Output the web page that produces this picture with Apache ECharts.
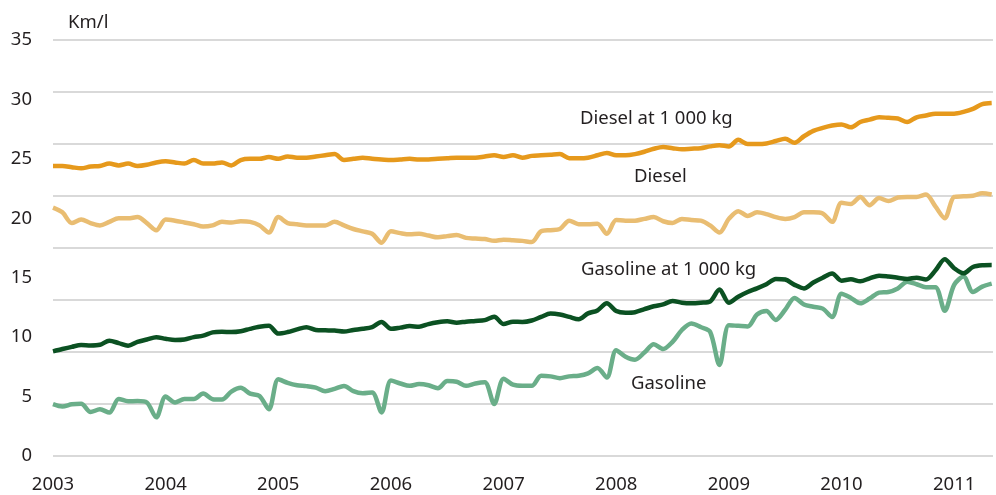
<!DOCTYPE html>
<html>
<head>
<meta charset="utf-8">
<script src="https://cdn.jsdelivr.net/npm/echarts@6/dist/echarts.min.js"></script>
<style>
  html, body { margin: 0; padding: 0; background: #ffffff; }
  #chart { width: 996px; height: 495px; }
</style>
</head>
<body>
<div id="chart"></div>
<script>
// monthly values, Jan 2003 .. May 2011 (km/l)
const startYear = 2003
const yearTicks = [2003, 2004, 2005, 2006, 2007, 2008, 2009, 2010, 2011]

const dieselKg = [
  24.4, 24.4, 24.3, 24.2, 24.35, 24.4, 24.6, 24.45, 24.6, 24.4, 24.5, 24.7,
  24.8, 24.7, 24.6, 24.9, 24.6, 24.6, 24.7, 24.45, 24.9, 25.0, 25.0, 25.15,
  25.0, 25.2, 25.1, 25.1, 25.2, 25.3, 25.4, 24.9, 25.0, 25.1, 25.0, 24.95,
  24.9, 24.95, 25.0, 24.95, 24.95, 25.0, 25.05, 25.1, 25.1, 25.1, 25.2, 25.3,
  25.15, 25.3, 25.1, 25.25, 25.3, 25.35, 25.4, 25.05, 25.05, 25.1, 25.3, 25.5,
  25.3, 25.3, 25.4, 25.6, 25.85, 26.0, 25.9, 25.8, 25.85, 25.9, 26.05, 26.15,
  26.05, 26.6, 26.25, 26.25, 26.3, 26.5, 26.7, 26.35, 26.9, 27.35, 27.6, 27.8,
  27.9, 27.65, 28.1, 28.3, 28.5, 28.45, 28.4, 28.1, 28.5, 28.65, 28.8, 28.8,
  28.8, 28.95, 29.2, 29.6, 29.7
]
const diesel = [
  20.9, 20.5, 19.6, 19.9, 19.6, 19.4, 19.7, 20.0, 20.0, 20.1, 19.6, 19.0,
  19.9, 19.8, 19.65, 19.5, 19.3, 19.4, 19.7, 19.65, 19.75, 19.7, 19.4, 18.8,
  20.1, 19.6, 19.5, 19.4, 19.4, 19.4, 19.7, 19.4, 19.1, 18.9, 18.7, 17.95,
  18.9, 18.75, 18.65, 18.7, 18.55, 18.4, 18.5, 18.6, 18.35, 18.3, 18.25, 18.1,
  18.2, 18.15, 18.1, 18.0, 18.9, 19.0, 19.1, 19.8, 19.5, 19.5, 19.55, 18.7,
  19.85, 19.8, 19.8, 19.95, 20.1, 19.75, 19.6, 19.95, 19.85, 19.8, 19.4, 18.8,
  19.95, 20.6, 20.2, 20.5, 20.35, 20.1, 19.95, 20.1, 20.5, 20.5, 20.4, 19.7,
  21.3, 21.2, 21.8, 21.1, 21.7, 21.45, 21.75, 21.8, 21.8, 22.0, 21.0, 20.0,
  21.8, 21.85, 21.9, 22.1, 22.0
]
const gasolineKg = [
  8.8, 9.0, 9.18, 9.33, 9.3, 9.36, 9.7, 9.5, 9.28, 9.6, 9.8, 10.0,
  9.86, 9.76, 9.8, 10.0, 10.13, 10.4, 10.45, 10.43, 10.5, 10.7, 10.87, 10.95,
  10.3, 10.43, 10.65, 10.83, 10.6, 10.57, 10.55, 10.47, 10.6, 10.7, 10.85, 11.28,
  10.7, 10.8, 10.93, 10.88, 11.1, 11.25, 11.33, 11.22, 11.3, 11.36, 11.43, 11.72,
  11.1, 11.3, 11.28, 11.4, 11.7, 11.98, 11.9, 11.7, 11.5, 12.0, 12.25, 12.85,
  12.2, 12.06, 12.1, 12.35, 12.6, 12.75, 13.05, 12.9, 12.85, 12.9, 13.0, 14.0,
  12.9, 13.4, 13.8, 14.1, 14.45, 14.9, 14.85, 14.4, 14.1, 14.6, 15.0, 15.35,
  14.75, 14.87, 14.7, 14.95, 15.17, 15.1, 15.0, 14.9, 15.0, 14.85, 15.6, 16.55,
  15.8, 15.37, 15.9, 16.05, 16.07
]
const gasoline = [
  4.37, 4.17, 4.35, 4.4, 3.7, 3.93, 3.65, 4.8, 4.6, 4.62, 4.5, 3.25,
  5.0, 4.5, 4.8, 4.8, 5.25, 4.78, 4.75, 5.42, 5.74, 5.25, 5.05, 3.93,
  6.45, 6.15, 5.95, 5.88, 5.75, 5.45, 5.65, 5.89, 5.45, 5.28, 5.35, 3.67,
  6.35, 6.1, 5.9, 6.05, 5.95, 5.7, 6.3, 6.25, 5.9, 6.1, 6.2, 4.37,
  6.5, 6.0, 5.9, 5.9, 6.75, 6.7, 6.55, 6.7, 6.75, 6.95, 7.4, 6.6,
  8.9, 8.35, 8.1, 8.7, 9.4, 9.0, 9.6, 10.6, 11.15, 10.85, 10.45, 7.66,
  11.0, 10.95, 10.9, 11.9, 12.2, 11.45, 12.3, 13.3, 12.75, 12.56, 12.4, 11.7,
  13.65, 13.3, 12.85, 13.25, 13.75, 13.8, 14.1, 14.66, 14.45, 14.2, 14.2, 12.22,
  14.4, 15.1, 13.8, 14.25, 14.5
]

const textColor = '#231f20'
const font = '"Noto Sans", sans-serif'

function toPoints(values) {
  return values.map((v, i) => [startYear + i / 12, v])
}

function lineSeries(name, values, color) {
  return {
    name: name,
    type: 'line',
    yAxisIndex: 0,
    data: toPoints(values),
    showSymbol: false,
    smooth: 0.3,
    lineStyle: { color: color, width: 4.5 },
    emphasis: { disabled: true }
  }
}

function note(text, left, top) {
  return {
    type: 'text',
    left: left,
    top: top,
    style: { text: text, fill: textColor, font: '18.5px ' + font }
  }
}

const chart = echarts.init(document.getElementById('chart'))
chart.setOption({
  animation: false,
  grid: { left: 53, right: 0, top: 40, bottom: 39 },
  xAxis: {
    type: 'value',
    min: yearTicks[0],
    max: 2011.345,
    interval: 1,
    axisLine: { show: false },
    axisTick: { show: false },
    splitLine: { show: false },
    axisLabel: {
      color: textColor,
      fontSize: 18.5,
      fontFamily: font,
      margin: 19,
      formatter: v => (yearTicks.includes(v) ? String(v) : '')
    }
  },
  yAxis: [
    {
      // labelled scale the data is drawn against
      type: 'value',
      min: 0,
      max: 35,
      interval: 5,
      axisLine: { show: false },
      axisTick: { show: false },
      splitLine: { show: false },
      axisLabel: { color: textColor, fontSize: 18.5, fontFamily: font, margin: 21 }
    },
    {
      // gridlines of the original are spaced on their own
      type: 'value',
      position: 'left',
      min: 0,
      max: 40,
      interval: 5,
      axisLine: { show: false },
      axisTick: { show: false },
      axisLabel: { show: false },
      splitLine: { lineStyle: { color: '#d9d9d9', width: 2 } }
    }
  ],
  series: [
    lineSeries('Gasoline', gasoline, '#6aae89'),
    lineSeries('Gasoline at 1 000 kg', gasolineKg, '#0b5122'),
    lineSeries('Diesel', diesel, '#e9bd72'),
    lineSeries('Diesel at 1 000 kg', dieselKg, '#e6991c')
  ],
  graphic: [
    note('Km/l', 68, 13),
    note('Diesel at 1 000 kg', 580, 109),
    note('Diesel', 634, 167),
    note('Gasoline at 1 000 kg', 581, 260),
    note('Gasoline', 631, 374)
  ]
})
</script>
</body>
</html>
